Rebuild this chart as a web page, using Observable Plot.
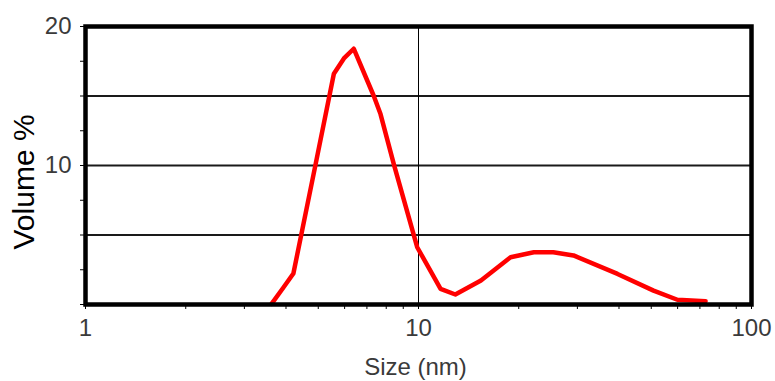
<!DOCTYPE html>
<html>
<head>
<meta charset="utf-8">
<script src="https://cdn.jsdelivr.net/npm/d3@7"></script>
<script src="https://cdn.jsdelivr.net/npm/@observablehq/plot@0.6"></script>
<style>
  html, body { margin: 0; padding: 0; background: #ffffff; }
  #chart svg { overflow: visible; }
  g[aria-label="x-axis tick label"] text, g[aria-label="y-axis tick label"] text { fill: #3a3a3a; }
</style>
</head>
<body>
<div id="chart"></div>
<script>
// Size (nm) and Volume %
const sizeNm = [3.62, 3.93, 4.21, 4.91, 5.57, 5.97, 6.39, 7.34, 7.69, 8.43, 9.91, 11.65, 12.9, 15.4, 18.9, 22.2, 25.4, 29.2, 39.6, 50.8, 59.9, 72.8];
const volumePct = [0.05, 1.22, 2.23, 10.1, 16.6, 17.7, 18.4, 15.0, 13.7, 10.1, 4.12, 1.13, 0.72, 1.73, 3.4, 3.76, 3.76, 3.53, 2.2, 1.0, 0.34, 0.24];

const xTicks = [1, 2, 3, 4, 5, 6, 7, 8, 9, 10, 20, 30, 40, 50, 60, 70, 80, 90, 100];
const xTickLabels = [1, 10, 100];
const yTicks = [0, 2.5, 5, 7.5, 10, 12.5, 15, 17.5, 20];
const yTickLabels = [10, 20];
const yGrid = [5, 10, 15];
const xGrid = [10];

const data = sizeNm.map((s, i) => ({size: s, volume: volumePct[i]}));

const font = "'Liberation Sans', Arial, sans-serif";

const chart = Plot.plot({
  width: 775,
  height: 381,
  marginLeft: 85,
  marginRight: 24,
  marginTop: 26,
  marginBottom: 77,
  style: {fontFamily: font, background: "#ffffff"},
  x: {type: "log", domain: [1, 100]},
  y: {domain: [0, 20]},
  marks: [
    Plot.gridY(yGrid, {stroke: "#1a1a1a", strokeOpacity: 1, strokeWidth: 1.8}),
    Plot.gridX(xGrid, {stroke: "#000000", strokeOpacity: 1, strokeWidth: 1}),
    Plot.axisX({
      ticks: xTicks,
      tickFormat: d => xTickLabels.includes(d) ? String(d) : "",
      tickSize: 5,
      tickPadding: 9,
      fontSize: 24,
      stroke: "black",
      label: null
    }),
    Plot.axisY({
      ticks: yTicks,
      tickFormat: d => yTickLabels.includes(d) ? String(d) : "",
      tickSize: 5,
      tickPadding: 9,
      fontSize: 24,
      stroke: "black",
      label: null
    }),
    Plot.line(data, {x: "size", y: "volume", stroke: "#ff0000", strokeWidth: 4.5, strokeLinejoin: "round", strokeLinecap: "round"}),
    Plot.frame({stroke: "black", strokeWidth: 4.5}),
    Plot.text(["Volume %"], {frameAnchor: "left", rotate: -90, dx: -61, dy: 84, fontSize: 30, fill: "black", text: d => d}),
    Plot.text(["Size (nm)"], {frameAnchor: "bottom", dx: -3, dy: 70, fontSize: 24, fill: "#3a3a3a", text: d => d})
  ]
});

document.getElementById("chart").appendChild(chart);
</script>
</body>
</html>
